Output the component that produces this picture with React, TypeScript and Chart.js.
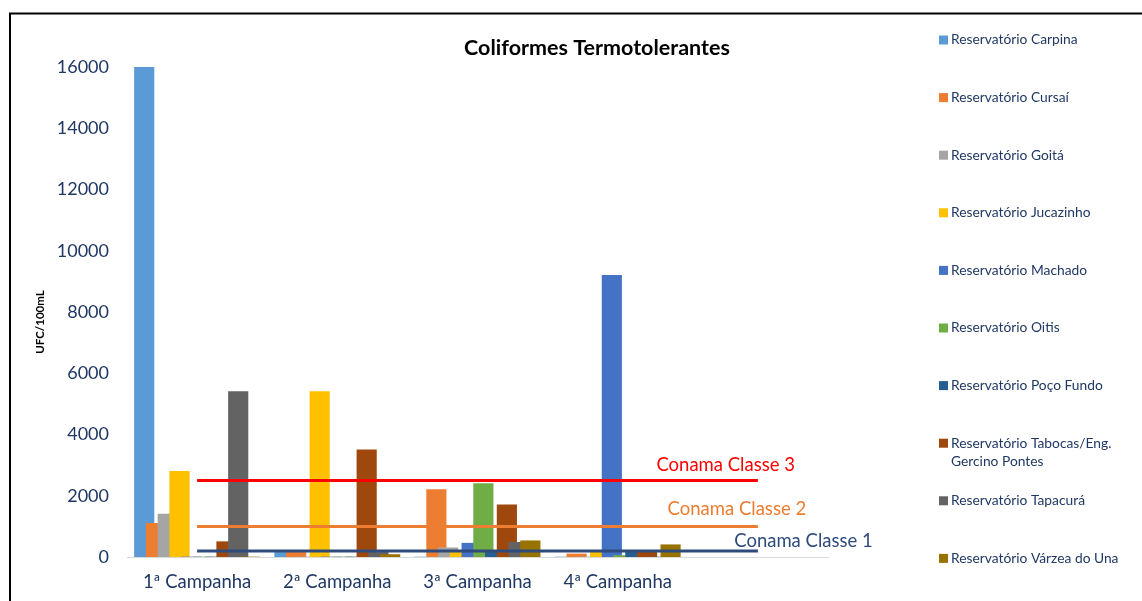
import React, { useEffect, useRef } from "react";
import { Chart, registerables } from "chart.js";

Chart.register(...registerables);

const categories = ["1ª Campanha", "2ª Campanha", "3ª Campanha", "4ª Campanha", ""];

const seriesNames = [
  "Reservatório Carpina",
  "Reservatório Cursaí",
  "Reservatório Goitá",
  "Reservatório Jucazinho",
  "Reservatório Machado",
  "Reservatório Oitis",
  "Reservatório Poço Fundo",
  "Reservatório Tabocas/Eng. Gercino Pontes",
  "Reservatório Tapacurá",
  "Reservatório Várzea do Una",
];

const seriesColors = [
  "#5B9BD5",
  "#ED7D31",
  "#A5A5A5",
  "#FFC000",
  "#4472C4",
  "#70AD47",
  "#255E91",
  "#9E480E",
  "#636363",
  "#997300",
];

const carpina = [16000, 150, 0, 0];
const cursai = [1100, 150, 2200, 100];
const goita = [1400, 0, 300, 0];
const jucazinho = [2800, 5400, 180, 170];
const machado = [0, 0, 450, 9200];
const oitis = [0, 0, 2400, 50];
const pocoFundo = [0, 0, 200, 200];
const tabocas = [500, 3500, 1700, 190];
const tapacura = [5400, 150, 480, 0];
const varzea = [0, 80, 530, 400];

const seriesValues = [carpina, cursai, goita, jucazinho, machado, oitis, pocoFundo, tabocas, tapacura, varzea];

const conamaNames = ["Conama Classe 1", "Conama Classe 2", "Conama Classe 3"];
const conamaValues = [200, 1000, 2500];
const conamaColors = ["#2F4B7C", "#ED7D31", "#FF0000"];

const yTicks = [0, 2000, 4000, 6000, 8000, 10000, 12000, 14000, 16000];

const TITLE = "Coliformes Termotolerantes";
const Y_TITLE = "UFC/100mL";

const FONT = "Lato";
const TEXT_BLUE = "#203864";

// layout constants (not data)
const BAR_STEP = 0.0838; // offset between series within a group, in category units
const BAR_THICKNESS = 19.5;
const LABEL_ANCHORS = [
  { x: 4.325, dy: -10 },
  { x: 3.85, dy: -17 },
  { x: 3.77, dy: -15 },
];

const overlayPlugin = {
  id: "overlay",
  beforeDraw(chart: any) {
    const ctx = chart.ctx;
    ctx.save();
    ctx.fillStyle = "#ffffff";
    ctx.fillRect(0, 0, chart.width, chart.height);
    ctx.restore();
  },
  afterDraw(chart: any) {
    const ctx = chart.ctx;
    const xs = chart.scales.x;
    const ys = chart.scales.y;
    ctx.save();

    // frame
    ctx.strokeStyle = "#000000";
    ctx.lineWidth = 2;
    ctx.beginPath();
    ctx.moveTo(10, chart.height + 2);
    ctx.lineTo(10, 13.5);
    ctx.lineTo(chart.width + 2, 13.5);
    ctx.stroke();

    // title
    ctx.fillStyle = "#000000";
    ctx.font = `bold 21.5px ${FONT}`;
    ctx.textAlign = "center";
    ctx.textBaseline = "middle";
    ctx.fillText(TITLE, 597, 48);

    // y title
    ctx.save();
    ctx.translate(40, 322);
    ctx.rotate(-Math.PI / 2);
    ctx.font = `bold 11.5px ${FONT}`;
    ctx.fillStyle = "#000000";
    ctx.fillText(Y_TITLE, 0, 0);
    ctx.restore();

    // conama labels
    ctx.font = `18.5px ${FONT}`;
    ctx.textAlign = "center";
    ctx.textBaseline = "middle";
    conamaNames.forEach((name, i) => {
      const a = LABEL_ANCHORS[i];
      ctx.fillStyle = conamaColors[i];
      ctx.fillText(name, xs.getPixelForValue(a.x), ys.getPixelForValue(conamaValues[i]) + a.dy);
    });

    // legend
    ctx.font = `13.8px ${FONT}`;
    ctx.textAlign = "left";
    ctx.textBaseline = "middle";
    const maxW = 182;
    seriesNames.forEach((name, i) => {
      const y = 40 + i * 57.6;
      ctx.fillStyle = seriesColors[i];
      ctx.fillRect(939, y - 4.5, 9, 9);
      ctx.fillStyle = TEXT_BLUE;
      const words = name.split(" ");
      const lines: string[] = [];
      let cur = "";
      words.forEach((w) => {
        const test = cur ? cur + " " + w : w;
        if (ctx.measureText(test).width > maxW && cur) {
          lines.push(cur);
          cur = w;
        } else {
          cur = test;
        }
      });
      if (cur) lines.push(cur);
      lines.forEach((ln, j) => ctx.fillText(ln, 951, y + j * 18));
    });

    ctx.restore();
  },
};

export default function App() {
  const ref = useRef<HTMLCanvasElement>(null);

  useEffect(() => {
    if (!ref.current) return;
    const barDatasets = seriesNames.map((name, k) => ({
      type: "bar" as const,
      label: name,
      data: seriesValues[k].map((v, i) => ({ x: i + (k - 4.5) * BAR_STEP, y: v })),
      backgroundColor: seriesColors[k],
      borderWidth: 0,
      grouped: false,
      barThickness: BAR_THICKNESS,
      order: 20 - k,
    }));
    const lineDatasets = conamaNames.map((name, i) => ({
      type: "line" as const,
      label: name,
      data: [
        { x: 0, y: conamaValues[i] },
        { x: categories.length - 1, y: conamaValues[i] },
      ],
      borderColor: conamaColors[i],
      borderWidth: 3,
      pointRadius: 0,
      fill: false,
      order: -1 - i,
    }));

    const chart = new Chart(ref.current, {
      type: "bar",
      data: { datasets: [...barDatasets, ...lineDatasets] as any },
      plugins: [overlayPlugin],
      options: {
        responsive: false,
        animation: false,
        layout: { padding: { left: 0, right: 314, top: 67, bottom: 0 } },
        plugins: {
          legend: { display: false },
          title: { display: false },
          tooltip: { enabled: false },
        },
        scales: {
          x: {
            type: "linear",
            offset: false,
            min: -0.5,
            max: categories.length - 0.5,
            grid: { display: false, drawTicks: false },
            border: { display: true, color: "#D9D9D9", width: 1 },
            afterBuildTicks: (s: any) => {
              s.ticks = categories.map((_, i) => ({ value: i }));
            },
            afterFit: (s: any) => {
              s.height = 44;
            },
            ticks: {
              autoSkip: false,
              maxRotation: 0,
              padding: 14,
              color: TEXT_BLUE,
              font: { family: FONT, size: 18.5 },
              callback: (v: any) => categories[Math.round(Number(v))] ?? "",
            },
          },
          y: {
            type: "linear",
            min: 0,
            max: 16000,
            grid: { display: false, drawTicks: false },
            border: { display: false },
            afterBuildTicks: (s: any) => {
              s.ticks = yTicks.map((v) => ({ value: v }));
            },
            afterFit: (s: any) => {
              s.width = 127;
            },
            ticks: {
              padding: 18,
              color: TEXT_BLUE,
              font: { family: FONT, size: 18 },
              callback: (v: any) => String(v),
            },
          },
        },
      } as any,
    });
    return () => chart.destroy();
  }, []);

  return (
    <canvas
      ref={ref}
      width={1142}
      height={601}
      style={{ position: "fixed", left: 0, top: 0, display: "block" }}
    />
  );
}
